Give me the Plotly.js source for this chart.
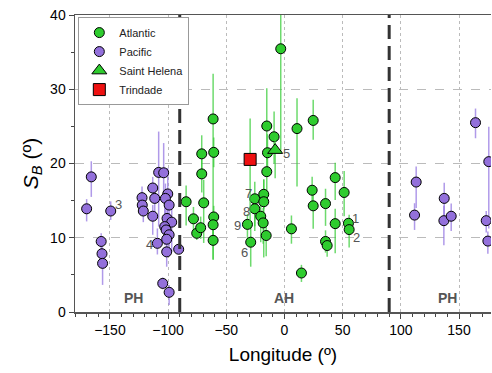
<!DOCTYPE html>
<html>
<head>
<meta charset="utf-8">
<script src="https://cdn.plot.ly/plotly-3.0.1.min.js"></script>
<style>html,body{margin:0;padding:0;background:#fff;}#chart{width:492px;height:373px;}</style>
</head>
<body>
<div id="chart"></div>
<script>
// Pacific sites
const pacLon = [-170, -166, -157.5, -156.8, -156.3, -149.3, -122.4, -122.2, -121.3, -113.2, -111.5, -113.2, -108.1, -103.8, -109.2, -100.3, -102.3, -99.1, -100.9, -96.9, -102.9, -101.7, -99.1, -101.2, -101.2, -90.9, -104.6, -99.1,
  113.2, 111.8, 137.3, 137.0, 143.3, 164.2, 175.6, 173.4, 174.8];
const pacSB = [13.9, 18.2, 9.5, 7.85, 6.55, 13.6, 15.4, 14.4, 13.6, 16.7, 15.3, 12.9, 18.8, 18.75, 9.25, 15.9, 15.3, 14.4, 12.6, 12.1, 11.5, 11.05, 10.4, 9.8, 8.1, 8.45, 3.85, 2.65,
  17.5, 13.05, 15.3, 12.3, 12.9, 25.5, 20.25, 12.3, 9.55];
const pacErrUp = [1.3, 2.1, 1.1, 1.0, 0.8, 1.3, 1.5, 1.2, 1.2, 1.5, 2.0, 1.5, 5.5, 4.0, 2.0, 3.5, 2.0, 2.0, 3.0, 2.0, 2.5, 2.0, 2.5, 2.0, 1.5, 0.3, 0.8, 1.0,
  2.1, 1.6, 2.1, 2.0, 1.7, 1.9, 4.7, 1.3, 1.3];
const pacErrDn = [1.7, 2.7, 1.0, 1.2, 2.9, 1.2, 1.5, 1.2, 1.5, 2.0, 2.0, 2.5, 7.3, 3.5, 1.5, 3.5, 2.5, 3.0, 2.0, 4.0, 2.5, 2.0, 2.5, 2.0, 2.0, 0.3, 0.8, 1.7,
  3.5, 2.0, 3.0, 3.3, 2.0, 2.1, 9.0, 1.6, 1.7];

// Atlantic sites
const atlLon = [-84.5, -78.2, -75.4, -72.0, -71.1, -71.1, -69.4, -61.3, -60.8, -60.8, -61.3, -61.3, -31.8, -29.0, -25.5, -25.5, -20.4, -17.8, -17.8, -18.3, -15.7, -15.2, -14.6, -15.2, -8.9, -3.2,
  6.0, 10.8, 14.6, 24.7, 23.8, 24.7, 35.3, 35.3, 36.7, 43.6, 43.6, 51.3, 55.0, 55.6];
const atlSB = [14.85, 12.55, 10.6, 11.35, 21.3, 18.6, 14.7, 26.0, 21.5, 12.8, 11.75, 9.65, 11.8, 9.4, 15.25, 13.9, 12.9, 15.85, 14.85, 12.0, 10.3, 25.05, 21.45, 18.9, 23.6, 35.45,
  11.2, 24.7, 5.25, 25.8, 16.4, 14.3, 14.6, 9.5, 8.95, 18.1, 11.9, 16.1, 11.95, 11.1];
const atlErrUp = [2.2, 1.6, 1.2, 1.5, 2.5, 2.0, 3.1, 6.1, 2.0, 1.5, 1.5, 1.5, 1.4, 2.1, 2.3, 2.0, 2.0, 2.0, 3.0, 2.0, 2.0, 5.1, 2.5, 2.0, 3.4, 4.55,
  1.8, 4.1, 1.1, 2.8, 1.8, 2.1, 2.0, 1.5, 1.0, 2.0, 2.0, 2.9, 0.6, 2.0];
const atlErrDn = [3.2, 1.9, 0.9, 1.5, 2.3, 2.5, 5.4, 19.0, 2.0, 1.5, 1.5, 2.5, 2.0, 3.3, 3.7, 3.0, 3.5, 2.0, 7.5, 2.8, 2.8, 4.5, 2.5, 3.0, 3.6, 14.0,
  2.0, 7.8, 1.2, 2.6, 1.9, 3.1, 3.0, 1.5, 1.5, 3.0, 4.0, 3.2, 0.6, 2.4];

// Saint Helena and Trindade
const shLon = [-8.0], shSB = [21.8], shErrUp = [1.8], shErrDn = [3.8];
const trLon = [-29.5], trSB = [20.55], trErrUp = [5.5], trErrDn = [8.9];

// numbered site labels
const siteLabels = ['1', '2', '3', '4', '5', '6', '7', '8', '9'];
const siteLabelLon = [61, 61.6, -143, -116, 1.5, -34, -31, -33, -40.7];
const siteLabelSB = [12.65, 10.0, 14.5, 9.15, 21.3, 8.0, 16.0, 13.5, 11.7];

// region labels
const regionLabels = ['PH', 'AH', 'PH'];
const regionLon = [-130, 0, 140];
const regionSB = [1.9, 1.9, 1.9];

const xTicks = [-150, -100, -50, 0, 50, 100, 150];
const yTicks = [0, 10, 20, 30, 40];
const hemisphereBounds = [-90, 90];

const FONT = 'Liberation Sans, Arial, sans-serif';
const mkLine = {color: '#000', width: 1};
const traces = [
  {
    name: 'Atlantic', x: atlLon, y: atlSB, type: 'scatter', mode: 'markers',
    marker: {color: '#2ecc2e', size: 10, line: mkLine},
    error_y: {type: 'data', symmetric: false, array: atlErrUp, arrayminus: atlErrDn, color: 'rgba(60,205,60,0.75)', thickness: 1.5, width: 0}
  },
  {
    name: 'Pacific', x: pacLon, y: pacSB, type: 'scatter', mode: 'markers',
    marker: {color: '#9370db', size: 10, line: mkLine},
    error_y: {type: 'data', symmetric: false, array: pacErrUp, arrayminus: pacErrDn, color: 'rgba(150,120,225,0.75)', thickness: 1.5, width: 0}
  },
  {
    name: 'Saint Helena', x: shLon, y: shSB, type: 'scatter', mode: 'markers',
    marker: {color: '#2ecc2e', size: 13, symbol: 'triangle-up', line: mkLine},
    error_y: {type: 'data', symmetric: false, array: shErrUp, arrayminus: shErrDn, color: 'rgba(60,205,60,0.75)', thickness: 1.5, width: 0}
  },
  {
    name: 'Trindade', x: trLon, y: trSB, type: 'scatter', mode: 'markers',
    marker: {color: '#ee1111', size: 12, symbol: 'square', line: mkLine},
    error_y: {type: 'data', symmetric: false, array: trErrUp, arrayminus: trErrDn, color: 'rgba(60,205,60,0.75)', thickness: 1.5, width: 0}
  }
];

const annotations = [];
siteLabels.forEach((t, i) => annotations.push({
  x: siteLabelLon[i], y: siteLabelSB[i], text: t, showarrow: false,
  font: {family: FONT, size: 13, color: '#555'}
}));
regionLabels.forEach((t, i) => annotations.push({
  x: regionLon[i], y: regionSB[i], text: '<b>' + t + '</b>', showarrow: false,
  font: {family: FONT, size: 14, color: '#555'}
}));

const shapes = hemisphereBounds.map(v => ({
  type: 'line', xref: 'x', yref: 'paper', x0: v, x1: v, y0: 0, y1: 1,
  line: {color: '#333', width: 3, dash: '14px,7px'}
}));

const axisFont = {family: FONT, size: 14, color: '#000'};
const layout = {
  width: 492, height: 373,
  margin: {l: 75, r: 1, t: 15, b: 61},
  paper_bgcolor: '#fff', plot_bgcolor: '#fff',
  showlegend: true,
  legend: {
    x: 0.008, y: 0.993, xanchor: 'left', yanchor: 'top',
    bgcolor: '#fff', bordercolor: '#999', borderwidth: 1,
    font: {family: FONT, size: 11, color: '#222'},
    itemsizing: 'trace', itemwidth: 30, tracegroupgap: 0
  },
  xaxis: {
    range: [-180, 177.5], tickvals: xTicks, ticks: 'outside', ticklen: 5, tickcolor: '#444',
    showline: true, linecolor: '#555', linewidth: 1.5, mirror: true,
    showgrid: true, gridcolor: '#bbb', griddash: 'dot', gridwidth: 1,
    zeroline: false, tickfont: axisFont,
    minor: {dtick: 10, ticks: 'outside', ticklen: 3, tickcolor: '#444', showgrid: false},
    title: {text: 'Longitude (º)', font: {family: FONT, size: 19, color: '#000'}, standoff: 10}
  },
  yaxis: {
    range: [0, 40], tickvals: yTicks, ticks: 'outside', ticklen: 5, tickcolor: '#444',
    showline: true, linecolor: '#555', linewidth: 1.5,
    showgrid: true, gridcolor: '#bbb', griddash: 'dash', gridwidth: 1,
    zeroline: false, tickfont: axisFont,
    minor: {dtick: 5, ticks: 'outside', ticklen: 3, tickcolor: '#444', showgrid: false},
    title: {text: '<i>S</i><sub><i>B</i></sub> (º)', font: {family: FONT, size: 21, color: '#000'}, standoff: 6}
  },
  annotations: annotations,
  shapes: shapes
};

Plotly.newPlot('chart', traces, layout, {displayModeBar: false, staticPlot: true});
</script>
</body>
</html>
